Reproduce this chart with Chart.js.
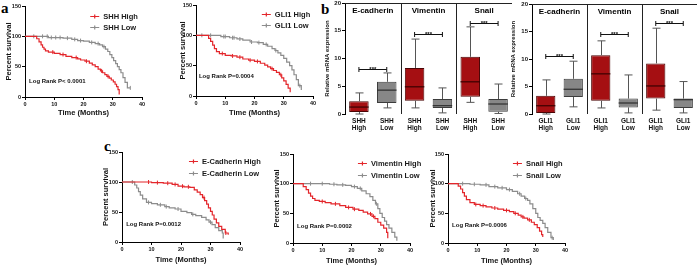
<!DOCTYPE html>
<html><head><meta charset="utf-8">
<script src="https://cdn.jsdelivr.net/npm/chart.js@4.4.1/dist/chart.umd.min.js"></script>
<style>
html,body{margin:0;padding:0;background:#fff;}
#wrap{position:relative;width:697px;height:265px;overflow:hidden;background:#fff;}
canvas{position:absolute;}
.lbl{position:absolute;font:bold 15px 'Liberation Serif','Times New Roman',serif;line-height:15px;color:#000;}
</style></head><body>
<div id="wrap">
  <div class="lbl" style="left:1px;top:1px">a</div>
  <div class="lbl" style="left:321px;top:2px">b</div>
  <div class="lbl" style="left:104px;top:139px">c</div>
</div>
<script>
// ---------- Kaplan-Meier data (time in months, percent survival) ----------
const shhHighT = [0, 4, 4.8, 5.5, 6, 6.5, 7, 8, 10, 12, 14, 16, 18, 19, 20.5, 22, 23, 24, 25, 25.8, 26.5, 27.3, 28, 28.8, 29.5, 30.2, 30.8, 31.3, 31.8, 32.2];
const shhHighS = [100, 96, 91, 86, 82, 79, 76, 74, 72, 70, 67, 65, 63, 61, 59, 56, 53, 50, 46, 43, 40, 37, 34, 31, 28, 25, 21, 17, 12, 4];
const shhHighCens = [9.5, 13, 17.5, 21, 26.2, 28.4];
const shhLowT = [0, 8, 13, 16, 18, 20, 22, 24, 25.5, 26.5, 27.5, 28.3, 29, 29.7, 30.3, 31, 31.6, 32.2, 32.8, 33.5, 34.2, 35, 36];
const shhLowS = [100, 98, 97, 95, 93, 92, 90, 88, 86, 83, 79, 75, 70, 65, 60, 55, 50, 45, 40, 32, 24, 15, 15];
const shhLowCens = [3, 6, 7.6, 9, 10.5, 12, 14.5, 17, 19, 22.8, 25, 27, 36];

const gliHighT = [0, 4.3, 5, 5.7, 6.3, 7, 8, 10, 12, 14, 16, 18, 20, 22, 23.5, 24.5, 25.5, 26.5, 27.5, 28.5, 29.3, 30, 30.8, 31.5, 32.2];
const gliHighS = [100, 95, 90, 84, 78, 73, 70, 67, 66, 64, 61, 59, 57, 54, 51, 48, 45, 42, 39, 35, 30, 25, 19, 13, 6];
const gliHighCens = [9, 12.5, 15, 18.5, 21, 26, 29];
const gliLowT = [0, 8.5, 11.5, 14, 16, 18.5, 21, 23, 24.5, 26, 27, 28, 29, 30, 31, 32, 32.8, 33.5, 34.3, 35, 36];
const gliLowS = [100, 98, 96, 94, 92, 89, 88, 85, 82, 78, 75, 71, 67, 62, 56, 50, 43, 35, 27, 17, 10];
const gliLowCens = [2, 5, 9.5, 10, 12.5, 13, 15, 19, 21.5, 24, 27.3, 35.5];

const ecadHighT = [0, 10, 14, 17, 19, 21, 23, 24.5, 25.5, 26.5, 27.3, 28, 28.7, 29.3, 30, 30.6, 31.2, 32, 32.8, 33.8, 35, 36];
const ecadHighS = [100, 99, 98, 96, 93, 92, 91, 87, 83, 79, 74, 69, 63, 57, 51, 45, 38, 32, 26, 21, 15, 12];
const ecadHighCens = [9, 12, 15.5, 18, 20.5, 22.5, 27.8, 35.2];
const ecadLowT = [0, 4.3, 5, 5.6, 6.2, 7, 8.3, 10, 12, 14.5, 16, 18, 20, 22, 23.6, 25, 27, 28.5, 29.5, 30.5, 31.6, 32.8, 34, 34.3];
const ecadLowS = [100, 95, 90, 84, 78, 72, 66, 64, 62, 59, 57, 55, 51, 49, 46, 44, 41, 37, 33, 29, 24, 19, 15, 6];
const ecadLowCens = [3.5, 9, 13, 15, 19, 24, 30];

const vimHighT = [0, 3.5, 4.5, 5.3, 6, 6.7, 7.5, 9, 11, 13, 16, 18, 20.5, 22.5, 24, 25.5, 27, 28, 29, 30, 31, 32, 32.4];
const vimHighS = [100, 95, 90, 84, 79, 75, 72, 70, 68, 66, 63, 60, 57, 55, 52, 49, 45, 41, 35, 30, 25, 18, 8];
const vimHighCens = [10, 14.5, 19, 21, 26.5, 27.5];
const vimLowT = [0, 12.5, 15, 18, 20, 22, 23.5, 25, 26.3, 27.3, 28.2, 29, 29.7, 30.5, 31.3, 32, 32.8, 33.8, 34.8, 35.5];
const vimLowS = [100, 99, 98, 97, 95, 92, 88, 83, 78, 72, 66, 58, 50, 43, 37, 31, 25, 18, 10, 4];
const vimLowCens = [6, 10, 14, 17, 21, 23, 28.5];

const snailHighT = [0, 3.5, 4.3, 5, 5.6, 6.3, 7.5, 9, 11, 13, 15, 17, 19, 21, 22.5, 24, 25, 26, 27.2, 28.5, 29.5, 30.5, 31.3, 32, 32.4];
const snailHighS = [100, 96, 91, 85, 79, 73, 68, 65, 63, 61, 59, 57, 55, 53, 50, 47, 44, 42, 39, 35, 31, 26, 20, 14, 10];
const snailHighCens = [9.5, 12, 16, 20, 23, 25.6, 27.8];
const snailLowT = [0, 7.5, 11, 14, 17, 20, 22, 23.8, 25, 26.2, 27.2, 28, 29, 30, 30.7, 31.5, 32.4, 33.2, 34.1, 35.2, 36];
const snailLowS = [100, 99, 98, 95, 93, 90, 87, 83, 79, 75, 72, 66, 58, 50, 43, 38, 33, 26, 18, 9, 5];
const snailLowCens = [5, 9, 13, 16, 18.5, 21, 24.5, 26.6, 35.6];

const kmXTicks = [0, 10, 20, 30, 40];
const kmYTicks = [0, 50, 100, 150];

// ---------- Box plot data (relative mRNA expression) ----------
const bGroups = ['E-cadherin', 'Vimentin', 'Snail'];
const shhLabels = [['SHH','High'],['SHH','Low'],['SHH','High'],['SHH','Low'],['SHH','High'],['SHH','Low']];
const shhMin = [0, 1.1, 1.1, 0.2, 2.1, 0.1];
const shhQ1  = [0.35, 2.0, 2.4, 1.1, 3.1, 0.4];
const shhMed = [1.25, 4.3, 4.9, 1.5, 5.8, 1.8];
const shhQ3  = [2.3, 5.8, 8.3, 2.7, 10.3, 2.7];
const shhMax = [3.8, 7.4, 13.5, 4.7, 15.7, 5.4];
const shhSig = [8.1, 14.4, 16.4];

const gliLabels = [['GLI1','High'],['GLI1','Low'],['GLI1','High'],['GLI1','Low'],['GLI1','High'],['GLI1','Low']];
const gliMin = [0, 1.3, 1.1, 0.2, 0.7, 0.2];
const gliQ1  = [0.2, 3.1, 2.4, 1.2, 2.8, 1.1];
const gliMed = [1.5, 4.5, 7.3, 2.0, 5.1, 2.6];
const gliQ3  = [3.3, 6.4, 10.7, 2.8, 9.2, 2.8];
const gliMax = [6.2, 9.6, 13.3, 7.1, 15.6, 5.9];
const gliSig = [10.5, 14.5, 16.5];
const bYTicks = [0, 5, 10, 15, 20];

// ---------- styling ----------
const NARROW = "'Liberation Sans Narrow','Arial Narrow','Liberation Sans',Arial,sans-serif";
const SANS = "'Liberation Sans',Arial,sans-serif";
const RED = '#e3262b', GRAY = '#8c8c8c';
const BOXRED = '#a50f12', BOXGRAY = '#878787';

function stepAt(t, T, S){ let v = S[0]; for (let i=0;i<T.length;i++){ if (T[i] <= t) v = S[i]; } return v; }

function makeCanvas(left, top, w, h){
  const c = document.createElement('canvas');
  c.width = w; c.height = h;
  c.style.left = left+'px'; c.style.top = top+'px';
  c.style.width = w+'px'; c.style.height = h+'px';
  document.getElementById('wrap').appendChild(c);
  return c;
}

const kmPlugin = {
  id: 'kmExtras',
  afterDraw(chart, args, o){
    const ctx = chart.ctx, xs = chart.scales.x, ys = chart.scales.y;
    ctx.save();
    let row = 0;
    chart.data.datasets.forEach(ds => {
      if (!ds.inLegend) return;
      const px = xs.getPixelForValue(o.legendX), py = Math.round(ys.getPixelForValue(o.legendY[row++])) + 0.5;
      ctx.strokeStyle = ds.borderColor; ctx.lineWidth = 1.2;
      ctx.beginPath();
      ctx.moveTo(px, py); ctx.lineTo(px + o.symLen, py);
      ctx.moveTo(px + o.symLen/2, py - 2); ctx.lineTo(px + o.symLen/2, py + 2);
      ctx.stroke();
      ctx.fillStyle = '#1a1a1a'; ctx.font = 'bold 7.5px ' + NARROW;
      ctx.textBaseline = 'middle'; ctx.textAlign = 'left';
      ctx.fillText(ds.label, px + o.symLen + o.gap, py);
    });
    ctx.font = 'bold 6px ' + NARROW; ctx.fillStyle = '#111';
    ctx.textBaseline = 'middle'; ctx.textAlign = 'left';
    ctx.fillText(o.note, xs.getPixelForValue(o.noteX), ys.getPixelForValue(o.noteY));
    ctx.restore();
  }
};

function km(spec){
  const cv = makeCanvas(spec.left, spec.top, spec.w, spec.h);
  const yW = spec.L - spec.left, xH = spec.top + spec.h - spec.B;
  const padTop = spec.T - spec.top, padR = spec.left + spec.w - spec.R;
  const datasets = [];
  spec.series.forEach(s => {
    datasets.push({label: s.label, inLegend: true, data: s.t.map((t,i)=>({x:t, y:s.s[i]})),
      borderColor: s.color, borderWidth: 1.2, stepped: 'before', pointRadius: 0, fill: false});
    datasets.push({label: s.label + ' censored', data: s.c.map(t=>({x:t, y:stepAt(t, s.t, s.s)})),
      showLine: false, pointStyle: 'line', rotation: 90, pointRadius: 2,
      pointBorderColor: s.color, pointBorderWidth: 1, borderColor: s.color});
  });
  const axisCommon = {
    grid: {display: true, drawOnChartArea: false, drawTicks: true, tickLength: 3, color: '#000', tickColor: '#000'},
    border: {display: true, color: '#000', width: 1}
  };
  new Chart(cv, {
    type: 'line',
    data: {datasets},
    options: {
      responsive: false, animation: false, events: [],
      layout: {padding: {left: 0, top: padTop, right: padR, bottom: 0}},
      plugins: {legend: {display: false}, tooltip: {enabled: false},
        kmExtras: {legendX: spec.legendX, legendY: spec.legendY, symLen: 9, gap: 4,
                   note: spec.note, noteX: spec.noteX, noteY: spec.noteY}},
      scales: {
        x: Object.assign({type: 'linear', min: 0, max: 40,
          afterBuildTicks: s => { s.ticks = kmXTicks.map(v=>({value:v})); },
          ticks: {autoSkip: false, maxRotation: 0, padding: 1, color: '#111', font: {family: NARROW, size: 5.5, weight: 'bold'}},
          title: {display: true, text: 'Time (Months)', color: '#111', font: {family: NARROW, size: 7.5, weight: 'bold'}, padding: {top: 0, bottom: spec.xTitlePad}},
          afterFit: s => { s.height = xH; s.paddingLeft = 0; s.paddingRight = 0; }
        }, axisCommon),
        y: Object.assign({type: 'linear', min: 0, max: 150,
          afterBuildTicks: s => { s.ticks = kmYTicks.map(v=>({value:v})); },
          ticks: {autoSkip: false, padding: 1, color: '#111', font: {family: NARROW, size: 5.5, weight: 'bold'}},
          title: {display: true, text: 'Percent survival', color: '#111', font: {family: SANS, size: 7.5, weight: 'bold'}, padding: {top: spec.yTitlePad, bottom: 0}},
          afterFit: s => { s.width = yW; s.paddingTop = 0; s.paddingBottom = 0; }
        }, axisCommon)
      }
    },
    plugins: [kmPlugin]
  });
}

const boxPlugin = {
  id: 'boxExtras',
  afterDatasetsDraw(chart, args, o){
    const ctx = chart.ctx, ys = chart.scales.y, a = chart.chartArea;
    const els = chart.getDatasetMeta(0).data;
    ctx.save();
    const cap = 4;
    els.forEach((el, i) => {
      const {x, width} = el.getProps(['x','width'], true);
      const cx = Math.round(x) + 0.5;
      const yMin = ys.getPixelForValue(o.min[i]), yMax = ys.getPixelForValue(o.max[i]);
      const yQ1 = ys.getPixelForValue(o.q1[i]), yQ3 = ys.getPixelForValue(o.q3[i]);
      const yMed = ys.getPixelForValue(o.med[i]);
      ctx.strokeStyle = '#555'; ctx.lineWidth = 1;
      ctx.beginPath();
      ctx.moveTo(cx, yQ3); ctx.lineTo(cx, yMax);
      ctx.moveTo(cx - cap, yMax); ctx.lineTo(cx + cap, yMax);
      ctx.moveTo(cx, yQ1); ctx.lineTo(cx, yMin);
      ctx.moveTo(cx - cap, yMin); ctx.lineTo(cx + cap, yMin);
      ctx.stroke();
      ctx.strokeStyle = i % 2 ? '#2e2e2e' : '#3a0000'; ctx.lineWidth = 1.2;
      ctx.beginPath(); ctx.moveTo(x - width/2, yMed); ctx.lineTo(x + width/2, yMed); ctx.stroke();
    });
    // frame: top line and group dividers
    ctx.strokeStyle = '#222'; ctx.lineWidth = 1;
    ctx.beginPath();
    ctx.moveTo(a.left, a.top + 0.5); ctx.lineTo(a.right, a.top + 0.5);
    for (let g = 1; g < o.groups.length; g++){
      const xm = Math.round((els[2*g-1].x + els[2*g].x)/2) + 0.5;
      ctx.moveTo(xm, a.top); ctx.lineTo(xm, a.bottom);
    }
    ctx.stroke();
    // titles and significance brackets
    o.groups.forEach((name, g) => {
      const x1 = els[2*g].x, x2 = els[2*g+1].x, xc = (x1 + x2)/2;
      ctx.fillStyle = '#000'; ctx.font = 'bold 8px ' + SANS;
      ctx.textAlign = 'center'; ctx.textBaseline = 'middle';
      ctx.fillText(name, xc, a.top + 7.5);
      const yb = Math.round(ys.getPixelForValue(o.sig[g])) + 0.5;
      ctx.strokeStyle = '#111'; ctx.lineWidth = 1;
      ctx.beginPath();
      ctx.moveTo(x1, yb); ctx.lineTo(x2, yb);
      ctx.moveTo(x1, yb - 2.5); ctx.lineTo(x1, yb + 2.5);
      ctx.moveTo(x2, yb - 2.5); ctx.lineTo(x2, yb + 2.5);
      ctx.stroke();
      ctx.font = 'bold 6px ' + SANS; ctx.textBaseline = 'alphabetic';
      ctx.fillText('***', xc, yb + 1.5);
    });
    ctx.restore();
  }
};

function boxChart(spec){
  const cv = makeCanvas(spec.left, spec.top, spec.w, spec.h);
  const yW = spec.L - spec.left, xH = spec.top + spec.h - spec.B;
  const padTop = spec.T - spec.top, padR = spec.left + spec.w - spec.R;
  new Chart(cv, {
    type: 'bar',
    data: {labels: spec.labels, datasets: [{
      data: spec.q1.map((v,i)=>[v, spec.q3[i]]),
      backgroundColor: spec.labels.map((l,i)=> i % 2 ? BOXGRAY : BOXRED),
      borderColor: spec.labels.map((l,i)=> i % 2 ? '#3c3c3c' : '#4a0505'),
      borderWidth: 1, borderSkipped: false, barPercentage: 0.7, categoryPercentage: 1
    }]},
    options: {
      responsive: false, animation: false, events: [],
      layout: {padding: {left: 0, top: padTop, right: padR, bottom: 0}},
      plugins: {legend: {display: false}, tooltip: {enabled: false},
        boxExtras: {groups: bGroups, min: spec.min, q1: spec.q1, med: spec.med, q3: spec.q3, max: spec.max, sig: spec.sig}},
      scales: {
        x: {type: 'category', offset: true,
          grid: {display: false, drawTicks: false, tickLength: 0}, border: {display: false},
          ticks: {autoSkip: false, maxRotation: 0, padding: 3, color: '#111', font: {family: SANS, size: 6.5, weight: 'bold', lineHeight: 1.2}},
          afterFit: s => { s.height = xH; s.paddingLeft = 0; s.paddingRight = 0; }
        },
        y: {type: 'linear', min: 0, max: 20,
          afterBuildTicks: s => { s.ticks = bYTicks.map(v=>({value:v})); },
          grid: {display: true, drawOnChartArea: false, drawTicks: true, tickLength: 3, color: '#000', tickColor: '#000'},
          border: {display: true, color: '#000', width: 1},
          ticks: {autoSkip: false, padding: 1, color: '#111', font: {family: SANS, size: 6, weight: 'bold'}},
          title: {display: true, text: 'Relative mRNA expression', color: '#111', font: {family: SANS, size: 6, weight: 'bold'}, padding: {top: spec.yTitlePad, bottom: 0}},
          afterFit: s => { s.width = yW; s.paddingTop = 0; s.paddingBottom = 0; }
        }
      }
    },
    plugins: [boxPlugin]
  });
}

// ---------- panel a ----------
km({left: 0, top: 0, w: 175, h: 121, L: 25, R: 142, T: 6, B: 97, yTitlePad: 4.5, xTitlePad: 3.5,
  series: [
    {label: 'SHH High', color: RED, t: shhHighT, s: shhHighS, c: shhHighCens},
    {label: 'SHH Low', color: GRAY, t: shhLowT, s: shhLowS, c: shhLowCens}],
  legendX: 22.3, legendY: [133, 115], note: 'Log Rank P< 0.0001', noteX: 1.4, noteY: 26});
km({left: 172, top: 0, w: 150, h: 121, L: 196, R: 313, T: 5, B: 96, yTitlePad: 6.5, xTitlePad: 3.5,
  series: [
    {label: 'GLI1 High', color: RED, t: gliHighT, s: gliHighS, c: gliHighCens},
    {label: 'GLI1 Low', color: GRAY, t: gliLowT, s: gliLowS, c: gliLowCens}],
  legendX: 22.5, legendY: [135, 117], note: 'Log Rank P=0.0004', noteX: 1, noteY: 33});

// ---------- panel b ----------
boxChart({left: 318, top: 0, w: 194, h: 135, L: 345, R: 512, T: 3, B: 114, yTitlePad: 5.4,
  labels: shhLabels, min: shhMin, q1: shhQ1, med: shhMed, q3: shhQ3, max: shhMax, sig: shhSig});
boxChart({left: 505, top: 0, w: 192, h: 135, L: 532, R: 697, T: 4, B: 114, yTitlePad: 4.4,
  labels: gliLabels, min: gliMin, q1: gliQ1, med: gliMed, q3: gliQ3, max: gliMax, sig: gliSig});

// ---------- panel c ----------
km({left: 100, top: 135, w: 165, h: 130, L: 122, R: 240, T: 152, B: 242, yTitlePad: 1.5, xTitlePad: 0.5,
  series: [
    {label: 'E-Cadherin High', color: RED, t: ecadHighT, s: ecadHighS, c: ecadHighCens},
    {label: 'E-Cadherin Low', color: GRAY, t: ecadLowT, s: ecadLowS, c: ecadLowCens}],
  legendX: 22.7, legendY: [135, 115], note: 'Log Rank P=0.0012', noteX: 1.4, noteY: 30});
km({left: 268, top: 135, w: 165, h: 130, L: 293, R: 410, T: 154, B: 243, yTitlePad: 4.5, xTitlePad: 0,
  series: [
    {label: 'Vimentin High', color: RED, t: vimHighT, s: vimHighS, c: vimHighCens},
    {label: 'Vimentin Low', color: GRAY, t: vimLowT, s: vimLowS, c: vimLowCens}],
  legendX: 22.2, legendY: [135, 115], note: 'Log Rank P=0.0002', noteX: 1.4, noteY: 28});
km({left: 425, top: 135, w: 170, h: 130, L: 448, R: 565, T: 154, B: 243, yTitlePad: 3.5, xTitlePad: 0,
  series: [
    {label: 'Snail High', color: RED, t: snailHighT, s: snailHighS, c: snailHighCens},
    {label: 'Snail Low', color: GRAY, t: snailLowT, s: snailLowS, c: snailLowCens}],
  legendX: 22.2, legendY: [135, 115], note: 'Log Rank P=0.0006', noteX: 1.4, noteY: 30});
</script>
</body></html>
